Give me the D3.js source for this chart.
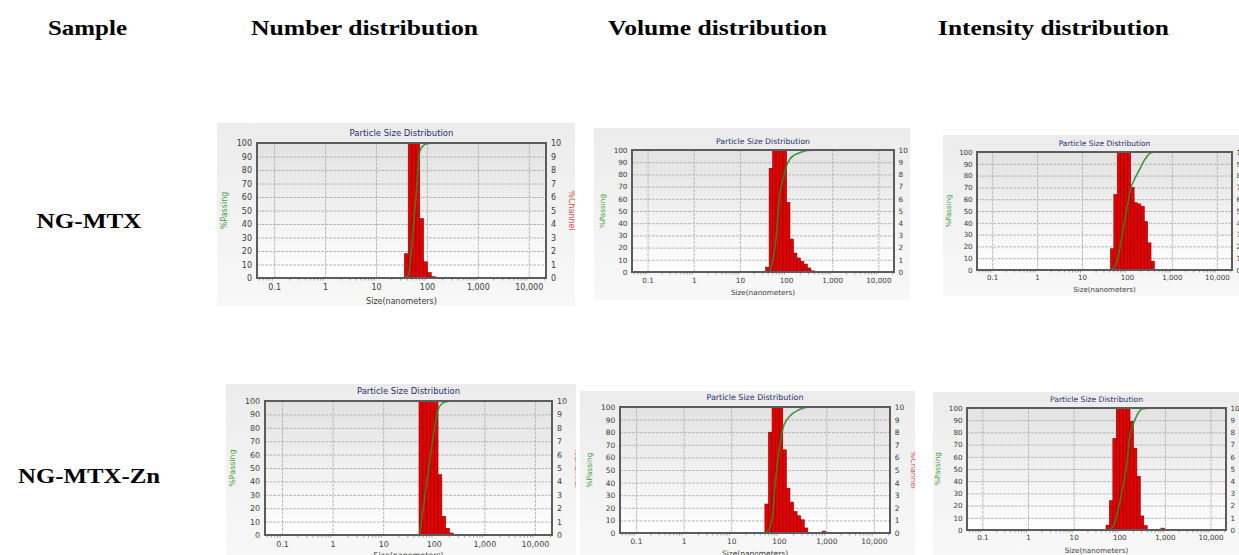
<!DOCTYPE html>
<html lang="en">
<head>
<meta charset="UTF-8">
<title>Particle Size Distribution</title>
<script src="https://cdnjs.cloudflare.com/ajax/libs/d3/7.8.5/d3.min.js"></script>
<style>
  body { margin: 0; background: #fff; }
  svg { display: block; }
</style>
</head>
<body>
<script>
// ---- data ----
const headers = ["Sample", "Number distribution", "Volume distribution", "Intensity distribution"]
const samples = ["NG-MTX", "NG-MTX-Zn"]

const sizeRange = [0.8, 6540]          // measured range of the instrument (nm)
const sizeTicks = [0.1, 1, 10, 100, 1000, 10000]
const passingTicks = [0, 10, 20, 30, 40, 50, 60, 70, 80, 90, 100]
const channelTicks = [0, 1, 2, 3, 4, 5, 6, 7, 8, 9, 10]

// channel i spans channelEdges[i] .. channelEdges[i+1] (nm)
const channelEdges = [30.4, 36.1, 43.0, 51.1, 60.8, 72.3, 85.9, 102.2, 121.5, 144.5, 171.9,
  204.4, 243.0, 289.0, 343.7, 408.8, 486.1, 578.1, 687.4, 817.5, 972.2, 1156.1]

// %channel per channel
const numberMTX    = [0, 1.8, 25, 33, 34.1, 4.4, 1.2, 0.4, 0.1, 0, 0, 0, 0, 0, 0, 0, 0, 0, 0, 0, 0]
const volumeMTX    = [0, 0.4, 8.5, 19, 34, 14, 11.05, 5.7, 2.7, 1.55, 1.15, 0.87, 0.65, 0.33, 0.1, 0, 0, 0, 0, 0, 0]
const intensityMTX = [0, 0, 1.8, 6.4, 14, 16, 16, 14.95, 7.0, 5.7, 5.6, 5.4, 4.1, 2.3, 0.75, 0, 0, 0, 0, 0, 0]
const numberZn     = [0, 0, 0, 18, 21, 20, 19, 15.45, 4.5, 1.4, 0.5, 0.15, 0, 0, 0, 0, 0, 0, 0, 0, 0]
const volumeZn     = [0, 0, 0, 2.3, 8.0, 32, 24, 16.43, 6.6, 3.55, 2.45, 1.7, 1.37, 1.05, 0.4, 0, 0, 0, 0, 0.15, 0]
const intensityZn  = [0, 0, 0, 0.4, 2.4, 7.5, 12, 14, 16, 26.04, 8.9, 6.7, 4.4, 1.15, 0.36, 0, 0, 0, 0, 0.15, 0]

const series = [[numberMTX, volumeMTX, intensityMTX], [numberZn, volumeZn, intensityZn]]

// ---- layout ----
const W = 1239, H = 555
const xDomain = [0.046, 21800]
const headerX = [48, 251, 608, 938]
const headerW = [79, 227, 219, 231]
const rowY = [228, 483]
const rowW = [105, 142]

// panel box (bg) and plot rect for each chart
const panels = [
  [{bg: [217, 123, 575, 306], plot: [257, 143, 546, 278], sz: 23},
   {bg: [594, 128, 910, 300], plot: [632, 150, 894, 272], sz: 20},
   {bg: [943, 135, 1239, 296], plot: [977, 152, 1232, 270], sz: 19}],
  [{bg: [226, 384, 576, 555], plot: [265, 401, 552, 535], sz: 20},
   {bg: [580, 391, 915, 555], plot: [620, 407, 890, 533], sz: 20},
   {bg: [933, 392, 1239, 555], plot: [967, 408, 1226, 530], sz: 20}]
]

let svg = d3.select("body").append("svg")
  .attr("width", W)
  .attr("height", H)
  .style("font-family", "'DejaVu Sans', Verdana, sans-serif")

let defs = svg.append("defs")
let g1 = defs.append("linearGradient").attr("id", "bgGrad").attr("x1", 0).attr("x2", 0).attr("y1", 0).attr("y2", 1)
g1.append("stop").attr("offset", "0%").attr("stop-color", "#ececec")
g1.append("stop").attr("offset", "100%").attr("stop-color", "#f8f8f8")
let g2 = defs.append("linearGradient").attr("id", "plotGrad").attr("x1", 0).attr("x2", 0).attr("y1", 0).attr("y2", 1)
g2.append("stop").attr("offset", "0%").attr("stop-color", "#e2e2e2")
g2.append("stop").attr("offset", "100%").attr("stop-color", "#ffffff")

// header row
svg.selectAll("text.header").data(headers).enter().append("text")
  .attr("class", "header")
  .attr("x", (d, i) => headerX[i])
  .attr("y", 35)
  .attr("textLength", (d, i) => headerW[i])
  .attr("lengthAdjust", "spacingAndGlyphs")
  .style("font-family", "'Liberation Serif', 'Times New Roman', serif")
  .style("font-weight", "bold")
  .style("font-size", "22px")
  .text(d => d)

svg.selectAll("text.sample").data(samples).enter().append("text")
  .attr("class", "sample")
  .attr("x", 89)
  .attr("y", (d, i) => rowY[i])
  .attr("text-anchor", "middle")
  .attr("textLength", (d, i) => rowW[i])
  .attr("lengthAdjust", "spacingAndGlyphs")
  .style("font-family", "'Liberation Serif', 'Times New Roman', serif")
  .style("font-weight", "bold")
  .style("font-size", "22px")
  .text(d => d)

function drawPanel(p, values, id) {
  let [bx0, by0, bx1, by1] = p.bg
  let [x0, y0, x1, y1] = p.plot
  let s = (x1 - x0) / 289
  let fs = 8 * s

  defs.append("clipPath").attr("id", "bgclip" + id)
    .append("rect").attr("x", bx0).attr("y", by0).attr("width", bx1 - bx0).attr("height", by1 - by0)
  defs.append("clipPath").attr("id", "plotclip" + id)
    .append("rect").attr("x", x0).attr("y", y0).attr("width", x1 - x0).attr("height", y1 - y0)

  let g = svg.append("g").attr("clip-path", `url(#bgclip${id})`)
  g.append("rect").attr("x", bx0).attr("y", by0).attr("width", bx1 - bx0).attr("height", by1 - by0)
    .attr("fill", "url(#bgGrad)")
  g.append("rect").attr("x", x0).attr("y", y0).attr("width", x1 - x0).attr("height", y1 - y0)
    .attr("fill", "url(#plotGrad)")

  let x = d3.scaleLog().domain(xDomain).range([x0, x1])
  let yL = d3.scaleLinear().domain([0, 100]).range([y1, y0])
  let yR = d3.scaleLinear().domain([0, 10]).range([y1, y0])

  // grid
  let gridY = g.append("g").attr("transform", `translate(${x0},0)`)
    .call(d3.axisLeft(yL).tickValues(passingTicks.slice(1, -1)).tickSize(-(x1 - x0)).tickFormat(""))
  let gridX = g.append("g").attr("transform", `translate(0,${y1})`)
    .call(d3.axisBottom(x).tickValues(sizeTicks).tickSize(-(y1 - y0)).tickFormat(""))
  for (let gg of [gridX, gridY]) {
    gg.select(".domain").remove()
    gg.selectAll("line").attr("stroke", "#b2b2b2").attr("stroke-width", 0.9).attr("stroke-dasharray", "3,1")
  }

  // minor ticks under the bottom axis
  let minor = x.ticks().filter(t => !sizeTicks.includes(t))
  let gMinor = g.append("g").attr("transform", `translate(0,${y1})`)
    .call(d3.axisBottom(x).tickValues(minor).tickSize(2.5).tickFormat(""))
  gMinor.select(".domain").remove()
  gMinor.selectAll("line").attr("stroke", "#a0a0a0")

  let plot = g.append("g").attr("clip-path", `url(#plotclip${id})`)

  // zero line of %channel
  plot.append("line")
    .attr("x1", x(sizeRange[0])).attr("x2", x(sizeRange[1]))
    .attr("y1", yR(0)).attr("y2", yR(0))
    .attr("stroke", "#e04040").attr("stroke-width", 1.4)

  // histogram bars
  let bars = values.map((v, i) => ({lo: channelEdges[i], hi: channelEdges[i + 1], v: v})).filter(d => d.v > 0)
  plot.selectAll("rect.bar").data(bars).enter().append("rect")
    .attr("class", "bar")
    .attr("x", d => x(d.lo))
    .attr("width", d => x(d.hi) - x(d.lo))
    .attr("y", d => yR(d.v))
    .attr("height", d => yR(0) - yR(d.v))
    .attr("fill", "#e40000")
    .attr("stroke", "#8a0000")
    .attr("stroke-width", 0.6)

  // cumulative % passing
  let cum = Array.from(d3.cumsum(values))
  let total = cum[cum.length - 1]
  let pts = [[sizeRange[0], 0], [channelEdges[0], 0]]
  cum.forEach((c, i) => pts.push([channelEdges[i + 1], c / total * 100]))
  pts.push([sizeRange[1], 100])
  plot.append("path")
    .datum(pts)
    .attr("fill", "none")
    .attr("stroke", "#2b8a2b")
    .attr("stroke-opacity", 0.88)
    .attr("stroke-width", 1.6)
    .attr("d", d3.line().x(d => x(d[0])).y(d => yL(d[1])).curve(d3.curveMonotoneX))

  // frame
  g.append("rect").attr("x", x0).attr("y", y0).attr("width", x1 - x0).attr("height", y1 - y0)
    .attr("fill", "none").attr("stroke", "#5c5c5c").attr("stroke-width", 2)

  // axes
  let axL = g.append("g").attr("transform", `translate(${x0},0)`)
    .call(d3.axisLeft(yL).tickValues(passingTicks).tickSize(0).tickPadding(5 * s))
  let axR = g.append("g").attr("transform", `translate(${x1},0)`)
    .call(d3.axisRight(yR).tickValues(channelTicks).tickSize(0).tickPadding(5 * s))
  let axB = g.append("g").attr("transform", `translate(0,${y1})`)
    .call(d3.axisBottom(x).tickValues(sizeTicks).tickSize(0).tickPadding(6 * s)
      .tickFormat(d => d < 1 ? String(d) : d3.format(",")(d)))
  for (let a of [axL, axR, axB]) {
    a.select(".domain").remove()
    a.selectAll("text").style("font-family", "'DejaVu Sans', Verdana, sans-serif")
      .style("font-size", fs + "px").attr("fill", "#3a3a3a")
  }

  g.append("text")
    .attr("x", (x0 + x1) / 2).attr("y", y0 - 7 * s)
    .attr("text-anchor", "middle")
    .style("font-size", (8.5 * s) + "px")
    .attr("fill", "#27306e")
    .text("Particle Size Distribution")

  g.append("text")
    .attr("x", (x0 + x1) / 2).attr("y", y1 + p.sz + 3 * s)
    .attr("text-anchor", "middle")
    .style("font-size", fs + "px")
    .attr("fill", "#3a3a3a")
    .text("Size(nanometers)")

  g.append("text")
    .attr("transform", `translate(${x0 - 30 * s},${(y0 + y1) / 2}) rotate(-90)`)
    .attr("text-anchor", "middle")
    .style("font-size", fs + "px")
    .attr("fill", "#3fa03f")
    .text("%Passing")

  g.append("text")
    .attr("transform", `translate(${x1 + 23 * s},${(y0 + y1) / 2}) rotate(90)`)
    .attr("text-anchor", "middle")
    .style("font-size", fs + "px")
    .attr("fill", "#d85050")
    .text("%Channel")
}

panels.forEach((row, r) => row.forEach((p, c) => drawPanel(p, series[r][c], r * 3 + c)))
</script>
</body>
</html>
